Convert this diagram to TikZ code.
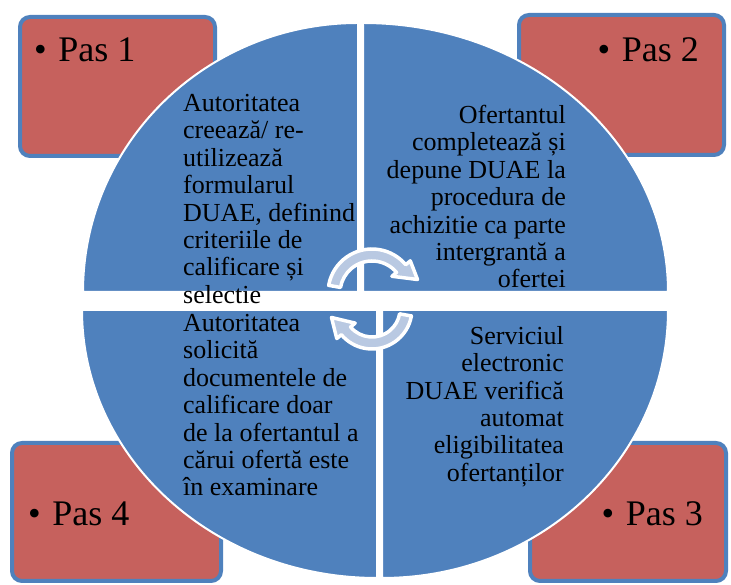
\documentclass[tikz,border=0pt]{standalone}
\usepackage{fontspec}
\setmainfont{Liberation Serif}
\definecolor{albastru}{RGB}{79,129,189}
\definecolor{rosu}{RGB}{198,97,93}
\definecolor{sageata}{RGB}{185,201,226}
\tikzset{
  pasbox/.style={draw=albastru, fill=rosu, line width=4pt, rounded corners=10pt, inner sep=0pt},
  pastext/.style={inner sep=0pt, font=\fontsize{36}{40}\selectfont},
  cadran/.style={fill=albastru, draw=white, line width=2pt},
  textcadran/.style={inner sep=0pt, font=\fontsize{26}{27.4}\selectfont},
  ciclu/.style={fill=sageata, draw=white, line width=3.5pt, line join=round}
}
\newcommand{\pas}[1]{\textbullet\hspace{0.32em}Pas #1}

\begin{document}
\begin{tikzpicture}[x=1pt, y=1pt]
    \useasboundingbox (0,0) rectangle (731,585);

    % Casetele pasilor
    \node[pasbox, minimum width=195pt, minimum height=139pt] (b1) at (117.5,498.5) {};
    \node[pasbox, minimum width=205pt, minimum height=140pt] (b2) at (621.5,500) {};
    \node[pasbox, minimum width=209pt, minimum height=138pt] (b4) at (116.5,73) {};
    \node[pasbox, minimum width=196pt, minimum height=138pt] (b3) at (628,73) {};

    % Cele patru cadrane
    \filldraw[cadran] (358,293) -- ++(-275,0) arc[start angle=180, end angle=90, x radius=275, y radius=269] -- cycle;
    \filldraw[cadran] (363,293) -- ++(0,269) arc[start angle=90, end angle=0, x radius=305, y radius=269] -- cycle;
    \filldraw[cadran] (377,275) -- ++(-295,0) arc[start angle=180, end angle=270, x radius=295, y radius=268] -- cycle;
    \filldraw[cadran] (382,275) -- ++(286,0) arc[start angle=0, end angle=-90, x radius=286, y radius=268] -- cycle;

    % Etichetele pasilor
    \node[pastext, anchor=base west] (p1) at (34,523) {\pas{1}};
    \node[pastext, anchor=base east] (p2) at (699,523) {\pas{2}};
    \node[pastext, anchor=base west] (p4) at (28,59) {\pas{4}};
    \node[pastext, anchor=base east] (p3) at (703,59) {\pas{3}};

    % Textele din cadrane
    \node[textcadran, anchor=north west, align=left] (t1) at (183,491)
        {Autoritatea\\creează/ re-\\utilizează\\formularul\\DUAE, definind\\criteriile de\\calificare și\\selectie};
    \node[textcadran, anchor=north east, align=right] (t2) at (566,480)
        {Ofertantul\\completează și\\depune DUAE la\\procedura de\\achizitie ca parte\\intergrantă a\\ofertei};
    \node[textcadran, anchor=north west, align=left] (t4) at (183,271)
        {Autoritatea\\solicită\\documentele de\\calificare doar\\de la ofertantul a\\cărui ofertă este\\în examinare};
    \node[textcadran, anchor=north east, align=right] (t3) at (564,259)
        {Serviciul\\electronic\\DUAE verifică\\automat\\eligibilitatea\\ofertanților};

    % Sagetile circulare din centru
    \begin{scope}[shift={(372,292)}]
        \filldraw[ciclu] (170:44) arc[start angle=170, end angle=40, radius=44] -- (40:50)
            -- (45.5,13.5) -- (40:26) -- (40:32) arc[start angle=40, end angle=170, radius=32] -- cycle;
    \end{scope}
    \begin{scope}[shift={(372,276)}]
        \filldraw[ciclu] (-10:40) arc[start angle=-10, end angle=-140, radius=40] -- (-140:46)
            -- (-40.5,-8.5) -- (-140:22) -- (-140:28) arc[start angle=-140, end angle=-10, radius=28] -- cycle;
    \end{scope}

\end{tikzpicture}
\end{document}
